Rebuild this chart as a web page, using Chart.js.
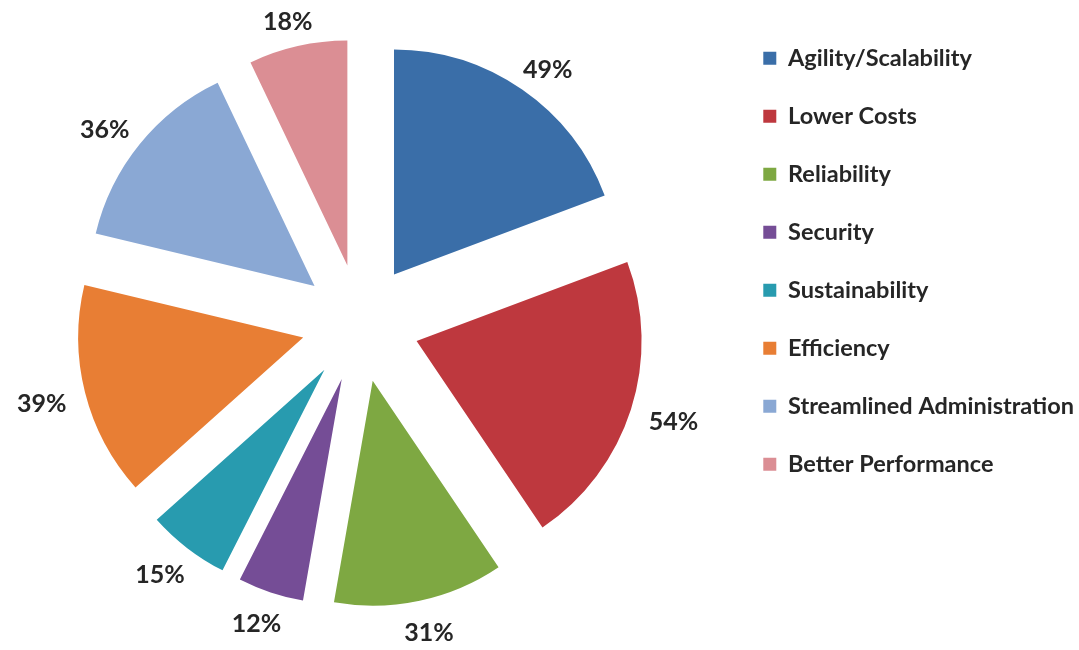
<!DOCTYPE html>
<html>
<head>
<meta charset="utf-8">
<script src="https://cdn.jsdelivr.net/npm/chart.js@4.4.1/dist/chart.umd.min.js"></script>
<style>
  html, body { margin: 0; padding: 0; background: #ffffff; overflow: hidden; }
  #wrap { position: relative; margin-left: -8px; width: 1087px; height: 650px; }
</style>
</head>
<body>
<div id="wrap"><canvas id="c"></canvas></div>
<script>
const categories = ['Agility/Scalability', 'Lower Costs', 'Reliability', 'Security', 'Sustainability', 'Efficiency', 'Streamlined Administration', 'Better Performance'];
const values = [49, 54, 31, 12, 15, 39, 36, 18];
const valueLabels = ['49%', '54%', '31%', '12%', '15%', '39%', '36%', '18%'];
const colors = ['#3A6EA8', '#BE383E', '#7EA842', '#754D96', '#289BAF', '#E87E34', '#8AA8D4', '#DB8E94'];

const EXPLODE = 59;      // uniform explosion distance (px)
const LABEL_GAP = 20;    // gap between outer edge and label box
const LABEL_FONT_SIZE = 25;

const explodePlugin = {
  id: 'explode',
  afterDatasetUpdate(chart, args) {
    const meta = args.meta;
    meta.data.forEach(arc => {
      const mid = (arc.startAngle + arc.endAngle) / 2;
      arc.x += Math.cos(mid) * EXPLODE;
      arc.y += Math.sin(mid) * EXPLODE;
    });
  }
};

const labelPlugin = {
  id: 'outsideLabels',
  afterDatasetsDraw(chart) {
    const ctx = chart.ctx;
    const meta = chart.getDatasetMeta(0);
    ctx.save();
    ctx.font = 'bold ' + LABEL_FONT_SIZE + 'px Lato';
    ctx.fillStyle = '#262626';
    ctx.textAlign = 'center';
    ctx.textBaseline = 'middle';
    meta.data.forEach((arc, i) => {
      const mid = (arc.startAngle + arc.endAngle) / 2;
      const ux = Math.cos(mid), uy = Math.sin(mid);
      const w = ctx.measureText(valueLabels[i]).width;
      const h = LABEL_FONT_SIZE * 0.72;
      const d = arc.outerRadius + LABEL_GAP;
      const x = arc.x + ux * d + ux * w / 2;
      const y = arc.y + uy * d + uy * h / 2 + 4;
      ctx.fillText(valueLabels[i], x, y);
    });
    ctx.restore();
  }
};

new Chart(document.getElementById('c'), {
  type: 'pie',
  data: {
    labels: categories,
    datasets: [{
      data: values,
      backgroundColor: colors,
      borderWidth: 0,
      radius: 225,
      clip: false
    }]
  },
  options: {
    responsive: true,
    maintainAspectRatio: false,
    animation: false,
    events: [],
    layout: { padding: { top: 12, bottom: 16, left: 0, right: -5 } },
    plugins: {
      tooltip: { enabled: false },
      legend: {
        position: 'right',
        align: 'start',
        labels: {
          boxWidth: 13,
          boxHeight: 13,
          padding: 34.5,
          color: '#262626',
          font: { family: 'Lato', weight: 'bold', size: 23.5 }
        }
      }
    }
  },
  plugins: [explodePlugin, labelPlugin]
});
</script>
</body>
</html>
